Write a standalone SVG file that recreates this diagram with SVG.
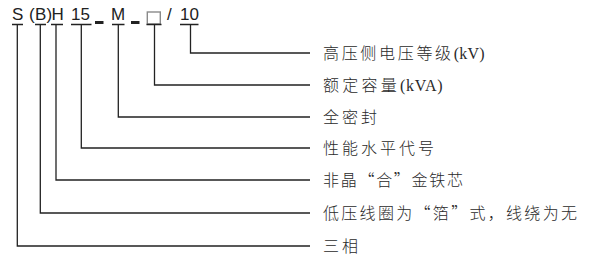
<svg xmlns="http://www.w3.org/2000/svg" width="590" height="270" viewBox="0 0 590 270">
<style>
.code{font-family:"Liberation Sans",Arial,sans-serif;font-size:17px;fill:#222}
.lbl{font-family:"Noto Sans CJK SC","Noto Sans",sans-serif;font-size:16px;font-weight:300;letter-spacing:3px;fill:#2a2a2a}
.lat{font-family:"Liberation Serif","Times New Roman",serif;font-size:16px;letter-spacing:0.5px}
.ln{fill:none;stroke:#222;stroke-width:1.3}
</style>
<rect width="590" height="270" fill="#fff"/>
<g id="code">
<text class="code" y="20"><tspan x="12">S</tspan><tspan x="29">(</tspan><tspan x="35">B</tspan><tspan x="46.5">)</tspan><tspan x="51.5">H</tspan><tspan x="71">15</tspan><tspan x="111">M</tspan><tspan x="167">/</tspan><tspan x="180">10</tspan></text>
<rect x="95" y="21" width="8.5" height="3" fill="#222"/>
<rect x="131" y="21" width="8.5" height="3" fill="#222"/>
<rect x="147.3" y="12" width="13" height="12" fill="none" stroke="#8a8a8a" stroke-width="1.4"/>
</g>
<g id="connectors">
<path class="ln" d="M180,24.5H198.5M190.5,24.5V53H310"/>
<path class="ln" d="M146.5,24.5H161.5M154.5,24.5V85H310"/>
<path class="ln" d="M112,24.5H124.5M118.3,24.5V117H310"/>
<path class="ln" d="M71,24.5H91.5M81.3,24.5V148H310"/>
<path class="ln" d="M51,24.5H63M56,24.5V180H310"/>
<path class="ln" d="M35,24.5H46M40.3,24.5V213H310"/>
<path class="ln" d="M12,24.5H23M17.3,24.5V246H310"/>
</g>
<g id="label-voltage"><text class="lbl" x="323" y="59" textLength="162" lengthAdjust="spacing">高压侧电压等级<tspan class="lat">(kV)</tspan></text></g>
<g id="label-capacity"><text class="lbl" x="323" y="91" textLength="120" lengthAdjust="spacing">额定容量<tspan class="lat">(kVA)</tspan></text></g>
<g id="label-sealed"><text class="lbl" x="323" y="123">全密封</text></g>
<g id="label-performance"><text class="lbl" x="323" y="154">性能水平代号</text></g>
<g id="label-core"><text class="lbl" x="323" y="186" textLength="143" lengthAdjust="spacing">非晶“合”金铁芯</text></g>
<g id="label-winding"><text class="lbl" x="323" y="219" textLength="257" lengthAdjust="spacing">低压线圈为“箔”式，线绕为无</text></g>
<g id="label-phase"><text class="lbl" x="323" y="252">三相</text></g>
</svg>
